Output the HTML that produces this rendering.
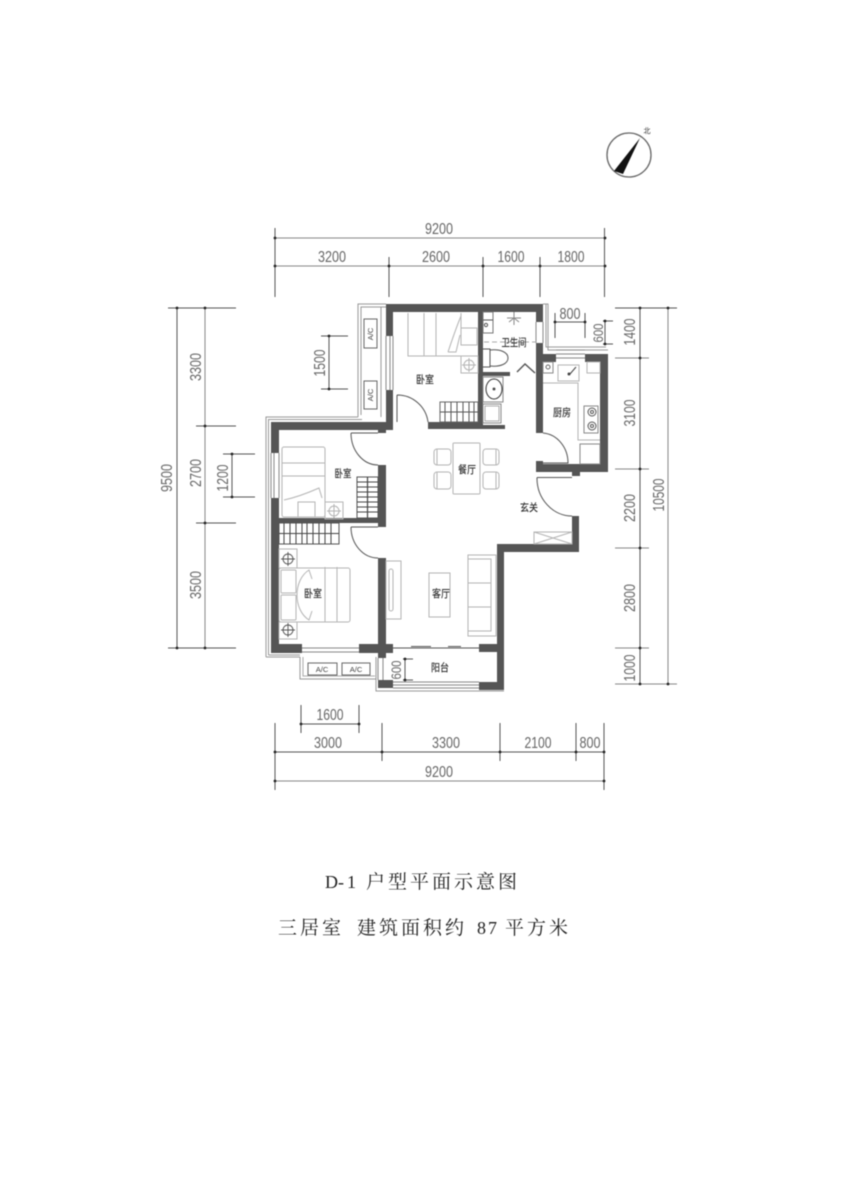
<!DOCTYPE html>
<html><head><meta charset="utf-8">
<style>
html,body{margin:0;padding:0;background:#fff}
svg{display:block;filter:blur(.5px)}
.d{font-family:"Liberation Sans",sans-serif;font-size:16px;fill:#666;text-anchor:middle}
.l{font-family:"Noto Sans CJK SC","Liberation Sans",sans-serif;font-size:10.5px;fill:#333;text-anchor:middle;font-weight:500}
.ac{font-family:"Liberation Sans",sans-serif;font-size:7.5px;fill:#444;text-anchor:middle}
.t{font-family:"Liberation Serif","Noto Serif CJK SC",serif;font-size:18px;fill:#222}
.c{font-family:"Noto Serif CJK SC",serif;font-size:19px;fill:#222}
.w{fill:#555}
.f{fill:none;stroke:#b4b4b4;stroke-width:1}
.k{fill:none;stroke:#555;stroke-width:1}
.dm{stroke:#555;stroke-width:1;fill:none}
.dl{stroke:#888;stroke-width:1;fill:none}
</style></head><body>
<svg width="848" height="1200" viewBox="0 0 848 1200" xmlns="http://www.w3.org/2000/svg">
<rect width="848" height="1200" fill="#fff"/>

<!-- compass -->
<circle cx="629" cy="155" r="22" fill="#fff" stroke="#666" stroke-width="1.3"/>
<polygon points="640,138 614,171 623,174" fill="#111"/>
<text x="647" y="133" font-size="7" font-family="'Noto Sans CJK SC',sans-serif" text-anchor="middle" fill="#333">北</text>

<!-- top dims -->
<path class="dm" d="M275 228V297M389 257V297M483 257V297M540 257V297M604.500 228V297"/>
<path class="dl" d="M275 238H605M275 266H605"/>
<g fill="#222"><circle cx="275" cy="238" r="1.4"/><circle cx="605" cy="238" r="1.4"/><circle cx="275" cy="266" r="1.4"/><circle cx="389" cy="266" r="1.4"/><circle cx="483" cy="266" r="1.4"/><circle cx="540" cy="266" r="1.4"/><circle cx="605" cy="266" r="1.4"/></g>
<text class="d" x="439" y="234" textLength="28" lengthAdjust="spacingAndGlyphs">9200</text>
<text class="d" x="332" y="262" textLength="28" lengthAdjust="spacingAndGlyphs">3200</text>
<text class="d" x="436" y="262" textLength="28" lengthAdjust="spacingAndGlyphs">2600</text>
<text class="d" x="511" y="262" textLength="27" lengthAdjust="spacingAndGlyphs">1600</text>
<text class="d" x="571" y="262" textLength="27" lengthAdjust="spacingAndGlyphs">1800</text>

<!-- left dims -->
<path class="dm" d="M168 308H236M196 426H236M196 523H236M168 648H236M177 308V648"/>
<path class="dl" d="M205 308V648"/>
<path class="dm" d="M321 336H348M321 389H348M329 336V389M223 454H255M223 497H255M232 454V497"/>
<g fill="#222"><circle cx="177" cy="308" r="1.4"/><circle cx="205" cy="308" r="1.4"/><circle cx="205" cy="426" r="1.4"/><circle cx="205" cy="523" r="1.4"/><circle cx="177" cy="648" r="1.4"/><circle cx="205" cy="648" r="1.4"/><circle cx="329" cy="336" r="1.4"/><circle cx="329" cy="389" r="1.4"/><circle cx="232" cy="454" r="1.4"/><circle cx="232" cy="497" r="1.4"/></g>
<text class="d" transform="translate(201,367) rotate(-90)" textLength="28" lengthAdjust="spacingAndGlyphs">3300</text>
<text class="d" transform="translate(201,473) rotate(-90)" textLength="28" lengthAdjust="spacingAndGlyphs">2700</text>
<text class="d" transform="translate(201,585) rotate(-90)" textLength="28" lengthAdjust="spacingAndGlyphs">3500</text>
<text class="d" transform="translate(172,478) rotate(-90)" textLength="28" lengthAdjust="spacingAndGlyphs">9500</text>
<text class="d" transform="translate(325,363) rotate(-90)" textLength="27" lengthAdjust="spacingAndGlyphs">1500</text>
<text class="d" transform="translate(228,478) rotate(-90)" textLength="27" lengthAdjust="spacingAndGlyphs">1200</text>

<!-- right dims -->
<path class="dm" d="M615 308H677M640 308V684"/>
<path class="dl" d="M615 358H649M615 469H649M615 548H649M615 648H649M615 684H677M668 308V684"/>
<g fill="#222"><circle cx="640" cy="308" r="1.4"/><circle cx="668" cy="308" r="1.4"/><circle cx="640" cy="358" r="1.4"/><circle cx="640" cy="469" r="1.4"/><circle cx="640" cy="548" r="1.4"/><circle cx="640" cy="648" r="1.4"/><circle cx="640" cy="684" r="1.4"/><circle cx="668" cy="684" r="1.4"/></g>
<text class="d" transform="translate(635,332) rotate(-90)" textLength="27" lengthAdjust="spacingAndGlyphs">1400</text>
<text class="d" transform="translate(635,413) rotate(-90)" textLength="27" lengthAdjust="spacingAndGlyphs">3100</text>
<text class="d" transform="translate(635,508) rotate(-90)" textLength="28" lengthAdjust="spacingAndGlyphs">2200</text>
<text class="d" transform="translate(635,598) rotate(-90)" textLength="28" lengthAdjust="spacingAndGlyphs">2800</text>
<text class="d" transform="translate(635,668) rotate(-90)" textLength="27" lengthAdjust="spacingAndGlyphs">1000</text>
<text class="d" transform="translate(664,495) rotate(-90)" textLength="33" lengthAdjust="spacingAndGlyphs">10500</text>

<!-- 800 / 600 dims -->
<path class="dm" d="M555 313V338M585 313V338M555 322H585"/>
<path class="dm" d="M603 321H613M603 344H613M605 321V344"/>
<g fill="#222"><circle cx="555" cy="322" r="1.4"/><circle cx="585" cy="322" r="1.4"/><circle cx="605" cy="321" r="1.4"/><circle cx="605" cy="344" r="1.4"/></g>
<text class="d" x="570" y="319" textLength="21" lengthAdjust="spacingAndGlyphs">800</text>
<text class="d" transform="translate(603,333) rotate(-90)" textLength="19" lengthAdjust="spacingAndGlyphs" style="font-size:14px">600</text>

<!-- bottom dims -->
<path class="dm" d="M301 705V733M359 705V733M301 724H359M275 723V790M382 723V761M500 723V761M576 723V761M604 723V790M275 752H604"/>
<path class="dl" d="M275 781H604"/>
<g fill="#222"><circle cx="301" cy="724" r="1.4"/><circle cx="359" cy="724" r="1.4"/><circle cx="275" cy="752" r="1.4"/><circle cx="382" cy="752" r="1.4"/><circle cx="500" cy="752" r="1.4"/><circle cx="576" cy="752" r="1.4"/><circle cx="604" cy="752" r="1.4"/><circle cx="275" cy="781" r="1.4"/><circle cx="604" cy="781" r="1.4"/></g>
<text class="d" x="330" y="720" textLength="27" lengthAdjust="spacingAndGlyphs">1600</text>
<text class="d" x="328" y="748" textLength="28" lengthAdjust="spacingAndGlyphs">3000</text>
<text class="d" x="446" y="748" textLength="28" lengthAdjust="spacingAndGlyphs">3300</text>
<text class="d" x="538" y="748" textLength="27" lengthAdjust="spacingAndGlyphs">2100</text>
<text class="d" x="590" y="748" textLength="21" lengthAdjust="spacingAndGlyphs">800</text>
<text class="d" x="439" y="777" textLength="28" lengthAdjust="spacingAndGlyphs">9200</text>

<!-- outer thin lines -->
<path d="M358 417V304H386M361 415V307H386M381 307V417M266 657V417H358M268.500 655V419.500H362M266 657H300M268.500 655H300" fill="none" stroke="#999"/>
<path d="M543 304H548V350H608M546 304V347H606" fill="none" stroke="#999"/>
<path d="M300 657V679H376V657M376 679V691H504" fill="none" stroke="#999"/>
<path d="M303 657V676H375" fill="none" stroke="#aaa"/>

<!-- walls -->
<g class="w">
<rect x="386" y="304" width="157" height="8"/>
<rect x="386" y="304" width="7" height="32"/>
<rect x="386" y="390" width="7" height="39"/>
<rect x="271" y="422" width="122" height="8"/>
<rect x="378" y="429" width="8" height="4"/>
<rect x="271" y="423" width="8" height="30"/>
<rect x="271" y="498" width="8" height="155"/>
<rect x="279" y="518" width="107" height="5"/>
<rect x="378" y="465" width="8" height="62"/>
<rect x="378" y="558" width="8" height="100"/>
<rect x="271" y="644" width="31" height="9"/>
<rect x="359" y="644" width="34" height="9"/>
<rect x="378" y="680" width="15" height="8"/>
<rect x="428" y="422" width="50" height="7"/>
<rect x="478" y="312" width="5" height="117"/>
<rect x="483" y="425" width="22" height="4"/>
<rect x="483" y="372" width="27" height="4"/>
<rect x="536" y="304" width="7" height="18"/>
<rect x="536" y="343" width="7" height="90"/>
<rect x="536" y="354" width="20" height="8"/>
<rect x="585" y="354" width="23" height="8"/>
<rect x="600" y="354" width="8" height="118"/>
<rect x="536" y="464" width="72" height="8"/>
<rect x="536" y="461" width="7" height="11"/>
<rect x="572" y="472" width="8" height="4"/>
<rect x="572" y="516" width="7" height="36"/>
<rect x="497" y="544" width="82" height="8"/>
<rect x="497" y="544" width="7" height="146"/>
<rect x="479" y="682" width="25" height="8"/>
<rect x="479" y="644" width="18" height="8"/>
</g>

<!-- windows -->
<g fill="#fff" stroke="#888">
<path d="M386 336V390M390 336V390M393 336V390"/>
<path d="M271 453V498M274 453V498M279 453V498"/>
<path d="M302 648H359M302 652H359"/>
<path d="M378 658V680M383 658V680"/>
<path d="M393 682H479M393 688H479M393 685H479"/>
<path d="M556 350H585M556 354H585M556 358H585"/>
<path d="M536 322V343M543 322V343"/>
</g>
<!-- balcony sliding door -->
<path d="M393 648H479" stroke="#555" fill="none"/>
<path d="M411 646.500H431M448 646.500H461" stroke="#555" fill="none"/>
<path d="M370 648H393" stroke="#555"/>

<!-- doors -->
<g class="k">
<path d="M397 395V422M397 395A31 31 0 0 1 428 422"/>
<path d="M351 433H378M351 433A27 32 0 0 0 378 465"/>
<path d="M351 527H378M351 527A27 31 0 0 0 378 558"/>
<path d="M537 477.500H572M537 477.500A35 38 0 0 0 572 516"/>
<path d="M543 433A27 30 0 0 1 568 463H543"/>
<path d="M517 372L525 364L535 373" stroke-width="1.4"/>
</g>

<!-- top bedroom furniture -->
<g class="f">
<path d="M408 313V356H478M424 313V356M436 313V356M461 313V328"/>
<rect x="461" y="328" width="16" height="17"/>
<path d="M448 352C452 340 456 328 461 316M448 352L456 352L460 335"/>
<rect x="461" y="356" width="17" height="17"/>
<circle cx="469" cy="365" r="5"/>
<path d="M469 358V372M462 365H476"/>
</g>
<g><rect x="440" y="402" width="38" height="20" fill="#fff" stroke="#666"/>
<path d="M440 412H478" stroke="#555"/>
<path d="M445 402V422M451 402V422M457 402V422M463 402V422M469 402V422M474 402V422" stroke="#555"/></g>

<!-- AC boxes -->
<g fill="#fff" stroke="#666">
<rect x="364" y="319" width="13" height="29"/>
<rect x="364" y="381" width="13" height="28"/>
<rect x="308" y="663" width="29" height="12"/>
<rect x="342" y="663" width="28" height="12"/>
</g>
<text class="ac" transform="translate(373,334) rotate(-90)">A/C</text>
<text class="ac" transform="translate(373,395) rotate(-90)">A/C</text>
<text class="ac" x="322" y="672">A/C</text>
<text class="ac" x="356" y="672">A/C</text>

<!-- bedroom 2 -->
<g class="f">
<rect x="282" y="447" width="43" height="70" rx="2"/>
<path d="M282 463H325M282 476H325"/>
<rect x="298" y="502" width="17" height="15"/>
<path d="M284 500C298 497 310 492 319 488L322 498"/>
<rect x="325" y="502" width="18" height="17"/>
<circle cx="334" cy="511" r="5"/>
<path d="M334 504V518M327 511H341"/>
</g>
<rect x="357" y="477" width="21" height="41" fill="#fff" stroke="#555"/>
<path d="M357 482H378M357 487H378M357 492H378M357 497H378M357 502H378M357 507H378M357 512H378" stroke="#444"/>
<path d="M367.500 477V518" stroke="#444" stroke-width="1.2"/>

<!-- bedroom 3 -->
<rect x="279" y="523" width="60" height="21" fill="#fff" stroke="#555"/>
<path d="M279 533.500H339M284 523V544M290 523V544M296 523V544M302 523V544M307 523V544M313 523V544M319 523V544M325 523V544M331 523V544" stroke="#444"/>
<g class="f">
<rect x="279" y="549" width="18" height="19"/>
<rect x="279" y="622" width="18" height="17"/>
<rect x="279" y="568" width="71" height="54" rx="2"/>
<path d="M325 567V622M337 567V622"/>
<rect x="281" y="570" width="15" height="23" rx="1"/>
<rect x="281" y="595" width="15" height="25" rx="1"/>
<path d="M297 595C297 585 301 575 309 570L312 579M297 595C297 605 301 615 309 620L312 611"/>
</g>
<g fill="none" stroke="#555" stroke-width=".9">
<circle cx="288" cy="559" r="5"/><path d="M288 552V566M281 559H295"/>
<circle cx="288" cy="630" r="5"/><path d="M288 623V637M281 630H295"/>
</g>

<!-- dining -->
<g class="f">
<rect x="453" y="443" width="27" height="51" rx="1"/>
<rect x="434" y="449" width="17" height="16" rx="3"/>
<rect x="434" y="472" width="17" height="17" rx="3"/>
<rect x="483" y="449" width="16" height="16" rx="3"/>
<rect x="483" y="472" width="16" height="17" rx="3"/>
<path d="M437 449V465M437 472V489M496 449V465M496 472V489"/>
</g>

<!-- living -->
<g class="f">
<rect x="429" y="573" width="21" height="44"/>
<rect x="468" y="555" width="28" height="81"/>
<rect x="468" y="559" width="23" height="72"/>
<path d="M468 583H491M468 607H491"/>
<rect x="386" y="561" width="15" height="58"/>
<rect x="389" y="569" width="4" height="42" rx="2"/>
<path d="M534 532H572V544H534ZM534 532L572 544M534 544L572 532"/>
</g>

<!-- bath -->
<g class="k">
<rect x="483" y="312" width="10" height="21" stroke="#777"/>
<path d="M483 320H493"/>
<circle cx="486" cy="325" r="1.6"/>
<path d="M507 318H521M514 312V325M514 318L509 322M514 318L519 322" stroke="#888"/>
<path d="M484 342H536" stroke-dasharray="5 3" stroke="#aaa"/>
<path d="M483 349H490V367H483"/>
<path d="M490 350C500 349 508 352 508 358C508 364 500 367 490 366"/>
<rect x="483" y="377" width="20" height="25" stroke="#888"/>
<ellipse cx="494" cy="389" rx="8" ry="10" stroke="#333"/>
<circle cx="494" cy="389" r="1" fill="#333"/>
<rect x="483" y="404" width="18" height="19" stroke="#888"/>
<rect x="485" y="406" width="14" height="15" stroke="#aaa"/>
</g>

<!-- kitchen -->
<g class="f">
<rect x="543" y="362" width="10" height="11" stroke="#888"/>
<circle cx="548" cy="367" r="2" stroke="#666"/>
<path d="M543 383H578V440H600"/>
<rect x="558" y="365" width="21" height="16"/>
<path d="M570 374L576 367" stroke="#444"/>
<circle cx="569" cy="374" r="1" fill="#444" stroke="#444"/>
<rect x="587" y="362" width="13" height="11"/>
<rect x="584" y="406" width="14" height="27" stroke="#888"/>
<circle cx="592" cy="412" r="4" stroke="#555"/>
<circle cx="592" cy="426" r="4" stroke="#555"/>
<circle cx="592" cy="412" r="1.5" stroke="#555"/>
<circle cx="592" cy="426" r="1.5" stroke="#555"/>
<rect x="580" y="444" width="20" height="20" stroke="#888"/>
</g>

<!-- room labels -->
<text class="l" x="425" y="383" textLength="18" lengthAdjust="spacingAndGlyphs">卧室</text>
<text class="l" x="343" y="477" textLength="17" lengthAdjust="spacingAndGlyphs">卧室</text>
<text class="l" x="313" y="597" textLength="18" lengthAdjust="spacingAndGlyphs">卧室</text>
<text class="l" x="514" y="346" textLength="25" lengthAdjust="spacingAndGlyphs">卫生间</text>
<text class="l" x="562" y="416" textLength="18" lengthAdjust="spacingAndGlyphs">厨房</text>
<text class="l" x="467" y="473" textLength="18" lengthAdjust="spacingAndGlyphs">餐厅</text>
<text class="l" x="529" y="511" textLength="18" lengthAdjust="spacingAndGlyphs">玄关</text>
<text class="l" x="441" y="597" textLength="18" lengthAdjust="spacingAndGlyphs">客厅</text>
<text class="l" x="440" y="671" textLength="18" lengthAdjust="spacingAndGlyphs">阳台</text>

<!-- balcony 600 dim -->
<path class="dm" d="M403 659H413M403 680H413M405 659V680"/>
<circle cx="405" cy="659" r="1.4" fill="#222"/><circle cx="405" cy="680" r="1.4" fill="#222"/>
<text class="d" transform="translate(401,670) rotate(-90)" textLength="19" lengthAdjust="spacingAndGlyphs" style="font-size:14px">600</text>

<!-- title -->
<text class="t" x="325 338 347" y="888">D-1</text>
<text class="c" x="366 388 410 432 454 476 498" y="888">户型平面示意图</text>
<text class="c" x="278 300 322" y="934">三居室</text>
<text class="c" x="357 379 401 423 445" y="934">建筑面积约</text>
<text class="t" x="477 488" y="934">87</text>
<text class="c" x="505 527 549" y="934">平方米</text>
</svg>
</body></html>
